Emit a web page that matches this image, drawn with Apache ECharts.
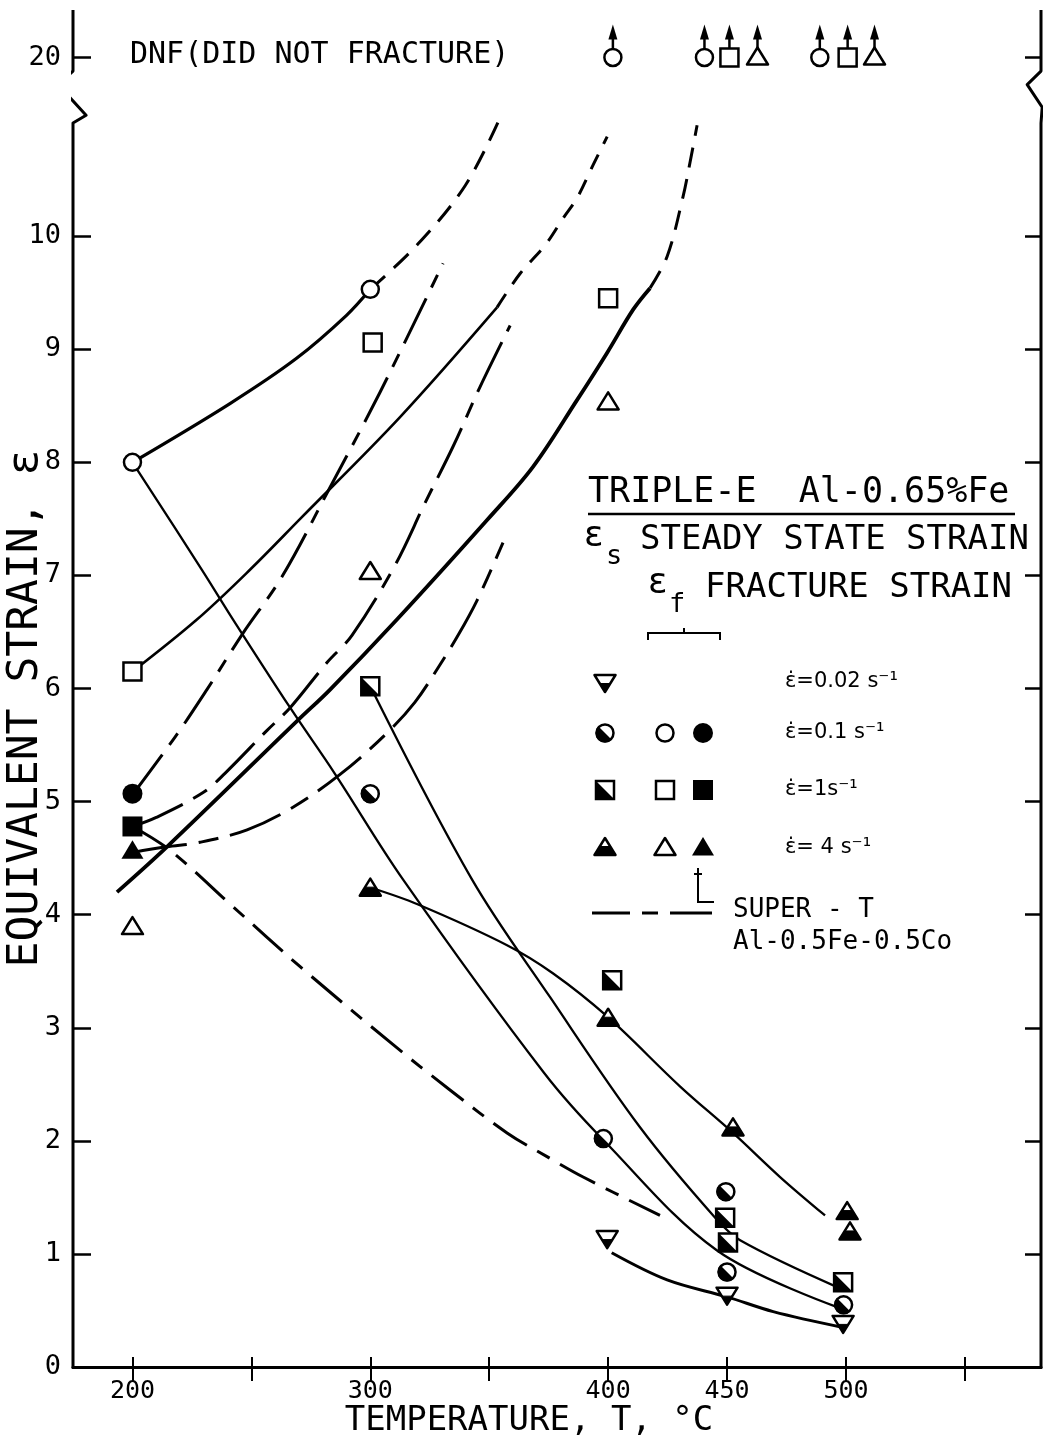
<!DOCTYPE html>
<html><head><meta charset="utf-8">
<script src="https://cdn.jsdelivr.net/npm/echarts@6/dist/echarts.min.js"></script>
<style>html,body{margin:0;padding:0;background:#fff}#c{width:1047px;height:1441px}</style>
</head><body><div id="c"></div>
<script>
// ---------------- DATA ----------------
const xTicks = [200, 250, 300, 350, 400, 450, 500, 550];
const xLabels = [200, 300, 400, 450, 500];
const yTicks = [0, 1, 2, 3, 4, 5, 6, 7, 8, 9, 10, 20];
const BREAK_POS = 11.58;   // axis position used for the "20" (DNF) level above the break

// Markers (value 20 = DNF, did not fracture)
const openCircle     = [[200, 8.0], [300, 9.53], [402, 20], [440.5, 20], [489, 20]];
const openSquare     = [[200, 6.15], [301, 9.06], [400, 9.45], [451, 20], [500.7, 20]];
const openTriangle   = [[200, 3.89], [300, 7.03], [400, 8.53], [462.8, 20], [512, 20]];
const filledCircle   = [[200, 5.07]];
const filledSquare   = [[200, 4.78]];
const filledTriangle = [[200, 4.56]];
const halfCircle     = [[300, 5.07], [398, 2.02], [449.5, 1.55], [450, 0.84], [499, 0.55]];
const halfSquare     = [[300, 6.02], [401.7, 3.42], [449.2, 1.32], [450.4, 1.10], [498.8, 0.75]];
const halfTriangle   = [[300, 4.23], [400, 3.08], [452.5, 2.11], [500.5, 1.37], [501.7, 1.19]];
const invTriangle    = [[399.6, 1.14], [450, 0.64], [498.8, 0.39]];

// Curves
const curveOpenCircle    = [[200, 8.0], [241, 8.52], [269, 8.92], [290, 9.30], [300, 9.53]];
const curveOpenCircleExt = [[300, 9.53], [320, 9.93], [340, 10.45], [354.6, 11.05]];
const curveOpenSquare    = [[200, 6.15], [227.1, 6.61], [249.4, 7.05], [270.5, 7.5], [312.5, 8.4], [353.3, 9.37]];
const curveOpenSquareExt = [[353.3, 9.37], [363, 9.67], [373.5, 9.92], [381.1, 10.16], [387, 10.34], [393.7, 10.63], [399.6, 10.88]];
const curveThick         = [[193.5, 4.2], [214.5, 4.6], [269.6, 5.72], [283.1, 5.99], [311.2, 6.61], [349.1, 7.49], [368.4, 7.96], [386.9, 8.55], [399.6, 8.97], [410.5, 9.35], [417.6, 9.54]];
const curveThickExt      = [[417.6, 9.54], [424.8, 9.82], [431.5, 10.35], [434.5, 10.66], [437.4, 10.98]];
const curveSuperT01      = [[200, 5.06], [217.9, 5.57], [231.3, 5.99], [246.5, 6.49], [262.9, 6.99], [283.1, 7.78], [304.1, 8.62], [330.6, 9.76]];
const curveSuperT1       = [[200, 4.78], [210, 4.86], [229.7, 5.08], [238.9, 5.25], [256.6, 5.63], [266.3, 5.83], [281.8, 6.23], [292.3, 6.47], [310.4, 7.09], [323, 7.64], [334.8, 8.14], [346.2, 8.67], [358.8, 9.21]];
const curveSuperT4       = [[200, 4.55], [214.3, 4.6], [228.4, 4.64], [248.2, 4.75], [267.5, 4.95], [287.3, 5.24], [306.2, 5.59], [318.8, 5.88], [329.3, 6.21], [336.9, 6.47], [344.9, 6.78], [355.8, 7.29]];
const curveSuperTDown    = [[200, 4.78], [215.8, 4.57], [242.3, 4.07], [270.5, 3.54], [309.6, 2.85], [333.5, 2.45], [357.5, 2.07], [374.3, 1.86], [389.5, 1.68], [421.8, 1.34]];
const curveFromCircle    = [[200, 8.0], [229.2, 7.05], [242.3, 6.61], [266.3, 5.83], [285, 5.25], [313.8, 4.31], [373.1, 2.6], [397.9, 2.01], [445.8, 1.03], [496.3, 0.53]];
const curveHalfSquare    = [[300, 6.02], [342.8, 4.31], [375.6, 3.27], [413.4, 2.12], [445, 1.32], [455.5, 1.12], [497, 0.70]];
const curveHalfTriangle  = [[300, 4.24], [320.1, 4.09], [357.5, 3.73], [376.9, 3.48], [399.6, 3.1], [430.3, 2.48], [452.5, 2.07], [472.3, 1.68], [491.2, 1.34]];
const curveInvTriangle   = [[401.5, 1.01], [424.8, 0.77], [450, 0.62], [469.4, 0.49], [498.8, 0.35]];

// Axis frame with break marks (data coordinates)
const leftFrame  = [[175, 0], [175, 11.0], [180.5, 11.07], [168.7, 11.34], [175, 11.46], [175, 12]];
const rightFrame = [[582, 0], [582, 11.0], [582.5, 11.14], [576.2, 11.34], [582, 11.46], [582, 12]];

// ---------------- RENDER ----------------
const FF = "'DejaVu Sans Mono', monospace";
const FP = "'DejaVu Sans', sans-serif";
const K = '#000', W = '#fff', LW = 2.5;
const mapY = v => (v >= 20 ? BREAK_POS : v);
const yTickPos = yTicks.map(mapY);

function shapes(kind, x, y) {
  const out = [];
  const r = 8.5, h = 9;
  const tri = (up) => up
    ? [[x, y - 10], [x + 10.5, y + 7], [x - 10.5, y + 7]]
    : [[x - 10.5, y - 7], [x + 10.5, y - 7], [x, y + 10]];
  switch (kind) {
    case 'oc': out.push({type: 'circle', shape: {cx: x, cy: y, r}, style: {fill: W, stroke: K, lineWidth: LW}}); break;
    case 'fc': out.push({type: 'circle', shape: {cx: x, cy: y, r: 10}, style: {fill: K}}); break;
    case 'hc':
      out.push({type: 'circle', shape: {cx: x, cy: y, r}, style: {fill: W, stroke: K, lineWidth: LW}});
      out.push({type: 'sector', shape: {cx: x, cy: y, r0: 0, r: r + 1, startAngle: Math.PI / 4, endAngle: Math.PI * 5 / 4, clockwise: true}, style: {fill: K}});
      break;
    case 'os': out.push({type: 'rect', shape: {x: x - h, y: y - h, width: 2 * h, height: 2 * h}, style: {fill: W, stroke: K, lineWidth: LW}}); break;
    case 'fs': out.push({type: 'rect', shape: {x: x - 10, y: y - 10, width: 20, height: 20}, style: {fill: K}}); break;
    case 'hs':
      out.push({type: 'rect', shape: {x: x - h, y: y - h, width: 2 * h, height: 2 * h}, style: {fill: W, stroke: K, lineWidth: LW}});
      out.push({type: 'polygon', shape: {points: [[x - h, y - h], [x - h, y + h], [x + h, y + h]]}, style: {fill: K}});
      break;
    case 'ot': out.push({type: 'polygon', shape: {points: tri(true)}, style: {fill: W, stroke: K, lineWidth: LW, lineJoin: 'round'}}); break;
    case 'ft': out.push({type: 'polygon', shape: {points: [[x, y - 11], [x + 11, y + 7.5], [x - 11, y + 7.5]]}, style: {fill: K}}); break;
    case 'ht':
      out.push({type: 'polygon', shape: {points: tri(true)}, style: {fill: W, stroke: K, lineWidth: LW, lineJoin: 'round'}});
      out.push({type: 'polygon', shape: {points: [[x - 5.25, y - 1.5], [x + 5.25, y - 1.5], [x + 10.5, y + 7], [x - 10.5, y + 7]]}, style: {fill: K, stroke: K, lineWidth: 1}});
      break;
    case 'it':
      out.push({type: 'polygon', shape: {points: tri(false)}, style: {fill: W, stroke: K, lineWidth: LW, lineJoin: 'round'}});
      out.push({type: 'polygon', shape: {points: [[x - 5.25, y + 1.5], [x + 5.25, y + 1.5], [x, y + 10]]}, style: {fill: K, stroke: K, lineWidth: 1}});
      break;
  }
  return out;
}

function markerSeries(name, arr, kind) {
  return {
    type: 'custom', name, coordinateSystem: 'cartesian2d', clip: false, z: 10, silent: true,
    data: arr.map(p => [p[0], mapY(p[1])]),
    renderItem: function (params, api) {
      const p = api.coord([api.value(0), api.value(1)]);
      const children = shapes(kind, p[0], p[1]);
      if (api.value(1) >= BREAK_POS - 1e-6) {
        children.push({type: 'line', shape: {x1: p[0], y1: p[1] - 9, x2: p[0], y2: p[1] - 20}, style: {stroke: K, lineWidth: 2.5}});
        children.push({type: 'polygon', shape: {points: [[p[0], p[1] - 33], [p[0] - 4.5, p[1] - 18], [p[0] + 4.5, p[1] - 18]]}, style: {fill: K}});
      }
      return {type: 'group', children};
    }
  };
}

function curve(name, arr, width, dash, smooth) {
  return {
    type: 'line', name, data: arr, symbol: 'none', silent: true, z: 5, clip: false,
    smooth: smooth === undefined ? 0.35 : smooth,
    lineStyle: {color: K, width, type: dash || 'solid', cap: 'butt', join: 'round'}
  };
}

const series = [
  curve('oc', curveOpenCircle, 3.2),
  curve('ocx', curveOpenCircleExt, 3, [20, 12]),
  curve('os', curveOpenSquare, 2.6),
  curve('osx', curveOpenSquareExt, 3, [16, 12]),
  curve('thick', curveThick, 3.8),
  curve('thickx', curveThickExt, 3, [20, 12]),
  curve('st01', curveSuperT01, 3, [50, 12, 14, 12]),
  curve('st1', curveSuperT1, 3, [55, 12, 16, 12]),
  curve('st4', curveSuperT4, 3, [55, 12, 20, 12]),
  curve('stdown', curveSuperTDown, 3, [40, 12, 14, 12]),
  curve('fromCircle', curveFromCircle, 2.3),
  curve('halfSq', curveHalfSquare, 2.3),
  curve('halfTri', curveHalfTriangle, 2.3),
  curve('invTri', curveInvTriangle, 3),
  curve('leftFrame', leftFrame, 3, 'solid', false),
  curve('rightFrame', rightFrame, 3, 'solid', false),
  markerSeries('Open circle', openCircle, 'oc'),
  markerSeries('Open square', openSquare, 'os'),
  markerSeries('Open triangle', openTriangle, 'ot'),
  markerSeries('Filled circle', filledCircle, 'fc'),
  markerSeries('Filled square', filledSquare, 'fs'),
  markerSeries('Filled triangle', filledTriangle, 'ft'),
  markerSeries('Half circle', halfCircle, 'hc'),
  markerSeries('Half square', halfSquare, 'hs'),
  markerSeries('Half triangle', halfTriangle, 'ht'),
  markerSeries('Inverted triangle', invTriangle, 'it')
];

function txt(x, y, text, size, font) {
  return {type: 'text', x, y, z: 20, style: {text, fontSize: size, fontFamily: font || FF, fill: K, align: 'left', verticalAlign: 'middle'}};
}
function grp(children) { return {type: 'group', children}; }

const legendRows = [
  {y: 682, kinds: ['it'], label: 'ε̇=0.02 s⁻¹'},
  {y: 733, kinds: ['hc', 'oc', 'fc'], label: 'ε̇=0.1 s⁻¹'},
  {y: 790, kinds: ['hs', 'os', 'fs'], label: 'ε̇=1s⁻¹'},
  {y: 848, kinds: ['ht', 'ot', 'ft'], label: 'ε̇= 4 s⁻¹'}
];
const colX = [605, 665, 703];
const graphics = [];
graphics.push(txt(130, 55, 'DNF(DID NOT FRACTURE)', 30));
graphics.push(txt(588, 493, 'TRIPLE-E  Al-0.65%Fe', 35));
graphics.push({type: 'line', z: 20, shape: {x1: 588, y1: 514, x2: 1015, y2: 514}, style: {stroke: K, lineWidth: 2.5}});
graphics.push(txt(584, 537, 'ε', 36, FP));
graphics.push(txt(606, 557, 's', 27));
graphics.push(txt(640, 540, 'STEADY STATE STRAIN', 34));
graphics.push(txt(648, 584, 'ε', 36, FP));
graphics.push(txt(669, 605, 'f', 27));
graphics.push(txt(705, 588, 'FRACTURE STRAIN', 34));
graphics.push({type: 'polyline', z: 20, shape: {points: [[648, 640], [648, 633], [720, 633], [720, 640]]}, style: {stroke: K, lineWidth: 2, fill: null}});
graphics.push({type: 'line', z: 20, shape: {x1: 684, y1: 633, x2: 684, y2: 628}, style: {stroke: K, lineWidth: 2}});
legendRows.forEach(row => {
  row.kinds.forEach((k, i) => graphics.push(grp(shapes(k, colX[i], row.y))));
  graphics.push(txt(785, row.y, row.label, 21, FP));
});
graphics.push({type: 'polyline', z: 20, shape: {points: [[698, 868], [698, 902], [714, 902]]}, style: {stroke: K, lineWidth: 2, fill: null}});
graphics.push({type: 'line', z: 20, shape: {x1: 694, y1: 874, x2: 702, y2: 874}, style: {stroke: K, lineWidth: 2}});
[[592, 630], [642, 658], [670, 712]].forEach(s => graphics.push({type: 'line', z: 20, shape: {x1: s[0], y1: 913, x2: s[1], y2: 913}, style: {stroke: K, lineWidth: 3}}));
graphics.push(txt(733, 910, 'SUPER - T', 26));
graphics.push(txt(733, 942, 'Al-0.5Fe-0.5Co', 26));

const axisFont = {color: K, fontFamily: FF};
const option = {
  backgroundColor: '#fff',
  animation: false,
  grid: {left: 73, right: 6, top: 10, bottom: 74, containLabel: false, outerBoundsMode: 'none'},
  xAxis: [
    {
      type: 'value', min: 175, max: 582, position: 'bottom',
      axisLine: {show: true, lineStyle: {color: K, width: 3}},
      axisTick: {show: true, inside: true, length: 10, customValues: xTicks, lineStyle: {color: K, width: 2}},
      axisLabel: Object.assign({customValues: xLabels, margin: 12, fontSize: 25}, axisFont),
      splitLine: {show: false},
      name: 'TEMPERATURE, T, °C', nameLocation: 'middle', nameGap: 37, nameMoveOverlap: false,
      nameTextStyle: {color: K, fontFamily: FF, fontSize: 34, padding: [0, 56, 0, 0]}
    },
    {
      type: 'value', min: 175, max: 582, position: 'top',
      axisLine: {show: true, lineStyle: {color: K, width: 3}},
      axisTick: {show: true, inside: true, length: 14, customValues: xTicks, lineStyle: {color: K, width: 2}},
      axisLabel: {show: false}, splitLine: {show: false}
    }
  ],
  yAxis: [
    {
      type: 'value', min: 0, max: 12, position: 'left',
      axisLine: {show: false},
      axisTick: {show: true, inside: true, length: 18, customValues: yTickPos, lineStyle: {color: K, width: 2.5}},
      axisLabel: Object.assign({customValues: yTickPos, margin: 12, fontSize: 27,
        formatter: v => { const i = yTickPos.findIndex(t => Math.abs(t - v) < 1e-6); return i >= 0 ? String(yTicks[i]) : ''; }}, axisFont),
      splitLine: {show: false},
      name: 'EQUIVALENT STRAIN, ε', nameLocation: 'middle', nameGap: 26, nameMoveOverlap: false,
      nameTextStyle: {color: K, fontFamily: FF, fontSize: 43, padding: [0, 40, 0, 0]}
    },
    {
      type: 'value', min: 0, max: 12, position: 'right',
      axisLine: {show: false},
      axisTick: {show: true, inside: true, length: 16, customValues: yTickPos, lineStyle: {color: K, width: 2.5}},
      axisLabel: {show: false}, splitLine: {show: false}
    }
  ],
  graphic: graphics,
  series
};
const chart = echarts.init(document.getElementById('c'), null, {renderer: 'canvas'});
chart.setOption(option);
</script></body></html>
